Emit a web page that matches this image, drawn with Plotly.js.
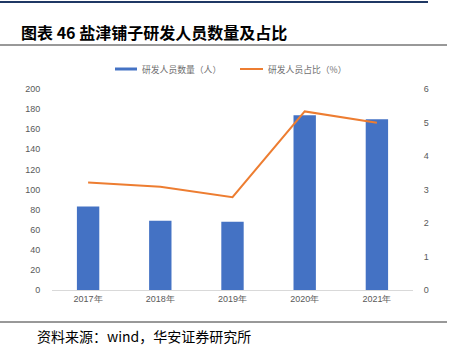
<!DOCTYPE html>
<html>
<head>
<meta charset="utf-8">
<script src="https://cdn.plot.ly/plotly-3.0.1.min.js"></script>
<style>html,body{margin:0;padding:0;background:#fff;}#chart{width:452px;height:353px;}</style>
</head>
<body>
<div id="chart"></div>
<script>
const years = ['2017年','2018年','2019年','2020年','2021年'];
const staffCount = [83, 69, 68, 174, 170];
const staffRatio = [3.21, 3.08, 2.77, 5.33, 4.99];
const seriesNames = ['研发人员数量（人）', '研发人员占比（%）'];
const chartTitle = '图表 46 盐津铺子研发人员数量及占比';
const sourceNote = '资料来源：wind，华安证券研究所';

const W = 452, H = 353;
const L = 52, R = 413, T = 89, B = 290;
const px = x => (x - L) / (R - L);
const py = y => (B - y) / (B - T);

const tickFont = {family: 'Liberation Sans, Arial, sans-serif', size: 9, color: '#595959'};

const traces = [
  {type: 'bar', x: years, y: staffCount, name: seriesNames[0], marker: {color: '#4472C4'}, yaxis: 'y', showlegend: false},
  {type: 'scatter', mode: 'lines', x: years, y: staffRatio, name: seriesNames[1], line: {color: '#ED7D31', width: 2}, yaxis: 'y2', showlegend: false}
];

const layout = {
  width: W, height: H,
  margin: {l: L, r: W - R, t: T, b: H - B, pad: 0},
  paper_bgcolor: '#fff', plot_bgcolor: '#fff',
  bargap: 0.69,
  showlegend: false,
  xaxis: {type: 'category', showline: true, linecolor: '#d9d9d9', linewidth: 1, ticks: '', tickfont: tickFont, showgrid: false, zeroline: false, fixedrange: true},
  yaxis: {range: [0, 200], dtick: 20, showgrid: false, zeroline: false, showline: false, ticks: 'outside', ticklen: 9, tickcolor: 'rgba(0,0,0,0)', tickfont: tickFont},
  yaxis2: {overlaying: 'y', side: 'right', range: [0, 6], dtick: 1, showgrid: false, zeroline: false, showline: false, ticks: 'outside', ticklen: 8, tickcolor: 'rgba(0,0,0,0)', tickfont: tickFont},
  shapes: [
    {type: 'line', xref: 'paper', yref: 'paper', x0: px(0), x1: px(428), y0: py(2), y1: py(2), line: {color: '#1F3864', width: 2}},
    {type: 'line', xref: 'paper', yref: 'paper', x0: px(0), x1: px(447), y0: py(45), y1: py(45), line: {color: '#333333', width: 1}},
    {type: 'line', xref: 'paper', yref: 'paper', x0: px(0), x1: px(447), y0: py(322), y1: py(322), line: {color: '#333333', width: 1}},
    {type: 'rect', xref: 'paper', yref: 'paper', x0: px(115), x1: px(137), y0: py(67.5), y1: py(70.5), fillcolor: '#4472C4', line: {width: 0}},
    {type: 'line', xref: 'paper', yref: 'paper', x0: px(240), x1: px(263), y0: py(69), y1: py(69), line: {color: '#ED7D31', width: 2}}
  ],
  annotations: [
    {xref: 'paper', yref: 'paper', x: px(19), y: py(32), xanchor: 'left', yanchor: 'middle', showarrow: false, text: '<b>' + chartTitle + '</b>', font: {family: 'Noto Sans CJK SC, sans-serif', size: 16, color: '#000'}},
    {xref: 'paper', yref: 'paper', x: px(140), y: py(69), xanchor: 'left', yanchor: 'middle', showarrow: false, text: seriesNames[0], font: {family: 'Noto Sans CJK SC, sans-serif', size: 8.8, color: '#6f6f6f'}},
    {xref: 'paper', yref: 'paper', x: px(266), y: py(69), xanchor: 'left', yanchor: 'middle', showarrow: false, text: seriesNames[1], font: {family: 'Noto Sans CJK SC, sans-serif', size: 8.8, color: '#6f6f6f'}},
    {xref: 'paper', yref: 'paper', x: px(35), y: py(336), xanchor: 'left', yanchor: 'middle', showarrow: false, text: sourceNote, font: {family: 'Noto Sans CJK SC, sans-serif', size: 14, color: '#000'}}
  ]
};

Plotly.newPlot('chart', traces, layout, {displayModeBar: false, staticPlot: true});
</script>
</body>
</html>
